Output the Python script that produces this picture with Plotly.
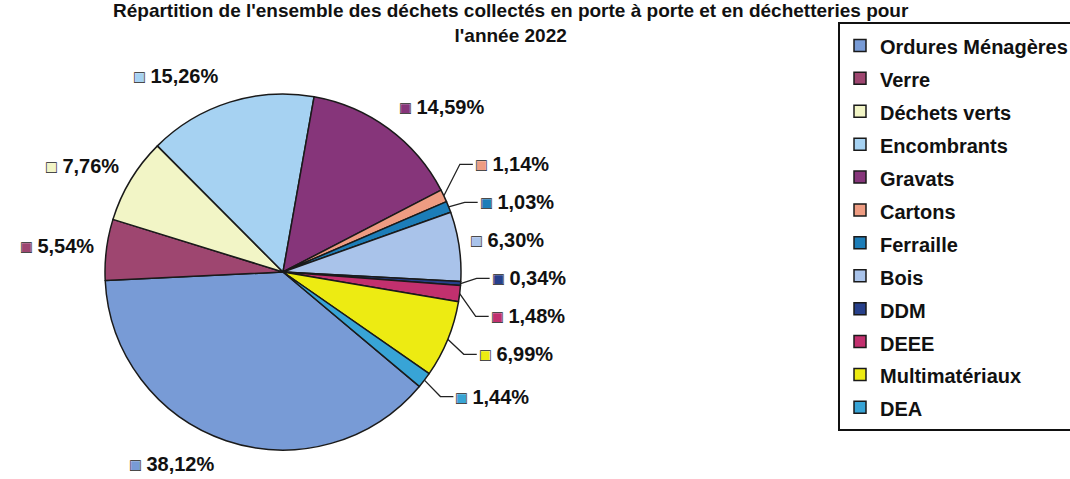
import math
import plotly.graph_objects as go

# Données : répartition des déchets 2022 (%)
categories = ["Ordures Ménagères", "Verre", "Déchets verts", "Encombrants", "Gravats",
              "Cartons", "Ferraille", "Bois", "DDM", "DEEE", "Multimatériaux", "DEA"]
valeurs = [38.12, 5.54, 7.76, 15.26, 14.59, 1.14, 1.03, 6.30, 0.34, 1.48, 6.99, 1.44]
couleurs = ["#789BD6", "#9E4670", "#F2F5C6", "#A6D2F2", "#86357A", "#EE9C82",
            "#1C7DB8", "#A9C3EA", "#27408B", "#C2306E", "#EDEB12", "#38A4D6"]
# étiquettes reliées au camembert par un trait
avec_trait = [False, False, False, False, False, True, True, False, True, True, True, True]

titre = ("Répartition de l'ensemble des déchets collectés en porte à porte et en déchetteries pour"
         "<br>l'année 2022")

police = "Arial, Liberation Sans, sans-serif"
W, H = 1070, 479

# géométrie du camembert (pixels)
cx, cy, R = 283, 272, 178
rotation = 130

def px(x):
    return x / W

def py(y):
    return 1 - y / H

# libellés de légende (span plus petit pour espacer les lignes)
legende = ["<span style='font-size:20px'>" + c + "</span>" for c in categories]

fig = go.Figure(go.Pie(
    labels=legende,
    values=valeurs,
    sort=False,
    direction="clockwise",
    rotation=rotation,
    marker={"colors": couleurs, "line": {"color": "#1a1a1a", "width": 1.5}},
    textinfo="none",
    domain={"x": [px(cx - R), px(cx + R)], "y": [py(cy + R), py(cy - R)]},
    hoverinfo="label+percent",
))

# position des étiquettes à partir de l'angle milieu de chaque part
total = sum(valeurs)
angles, xs, ys = [], [], []
cumul = 0
for i, v in enumerate(valeurs):
    a = math.radians(rotation + 360 * (cumul + v / 2) / total)
    cumul += v
    angles.append(a)
    s, c = math.sin(a), math.cos(a)
    ecart = 30 if avec_trait[i] else 10
    xs.append(cx + R * s + (ecart if s > 0 else -ecart))
    ys.append(min(cy - (R + 27) * c, H - 15))

# écartement vertical des étiquettes du côté droit
droite = sorted([i for i in range(len(valeurs)) if math.sin(angles[i]) > 0], key=lambda i: ys[i])
ecart_min = 38
for _ in range(200):
    for a, b in zip(droite, droite[1:]):
        e = ys[b] - ys[a]
        if e < ecart_min:
            d = (ecart_min - e) / 2
            ys[a] -= d
            ys[b] += d

annotations = []
shapes = []
for i, v in enumerate(valeurs):
    s = math.sin(angles[i])
    c = math.cos(angles[i])
    cote = "left" if s > 0 else "right"
    pct = f"{v:.2f}".replace(".", ",") + "%"
    fond = "<span style='font-size:18px;color:" + couleurs[i] + "'>■</span> " + pct
    bord = ("<span style='font-size:18px;color:#222'>□</span>"
            "<span style='color:rgba(0,0,0,0)'> " + pct + "</span>")
    for t in (fond, bord):
        annotations.append(dict(
            text=t, x=px(xs[i]), y=py(ys[i]), xref="paper", yref="paper",
            xanchor=cote, yanchor="middle", showarrow=False,
            font={"family": police, "size": 20, "color": "#111", "weight": "bold"},
        ))
    if avec_trait[i]:
        x0, y0 = cx + R * s, cy - R * c
        coude = xs[i] - 14
        shapes.append(dict(
            type="path", xref="paper", yref="paper",
            path=f"M {px(x0)},{py(y0)} L {px(coude)},{py(ys[i])} L {px(xs[i] - 1)},{py(ys[i])}",
            line={"color": "#222", "width": 1.3},
        ))

# titre sur deux lignes
annotations.append(dict(text=titre, x=px(511), y=py(23), xref="paper", yref="paper",
                        xanchor="center", yanchor="middle", showarrow=False,
                        font={"family": police, "size": 19, "color": "#111", "weight": "bold"}))

fig.update_layout(
    width=W, height=H,
    margin={"l": 0, "r": 0, "t": 0, "b": 0, "autoexpand": False},
    paper_bgcolor="white",
    annotations=annotations,
    shapes=shapes,
    legend={"x": px(838), "xanchor": "left", "y": py(22), "yanchor": "top",
            "bordercolor": "#111", "borderwidth": 2, "bgcolor": "white",
            "font": {"family": police, "size": 23, "color": "#111", "weight": "bold"}},
)

# pas de marge autour du graphique dans la page
fig.write_html("out.html", config={"displayModeBar": False},
               post_script="document.body.style.margin='0';")
